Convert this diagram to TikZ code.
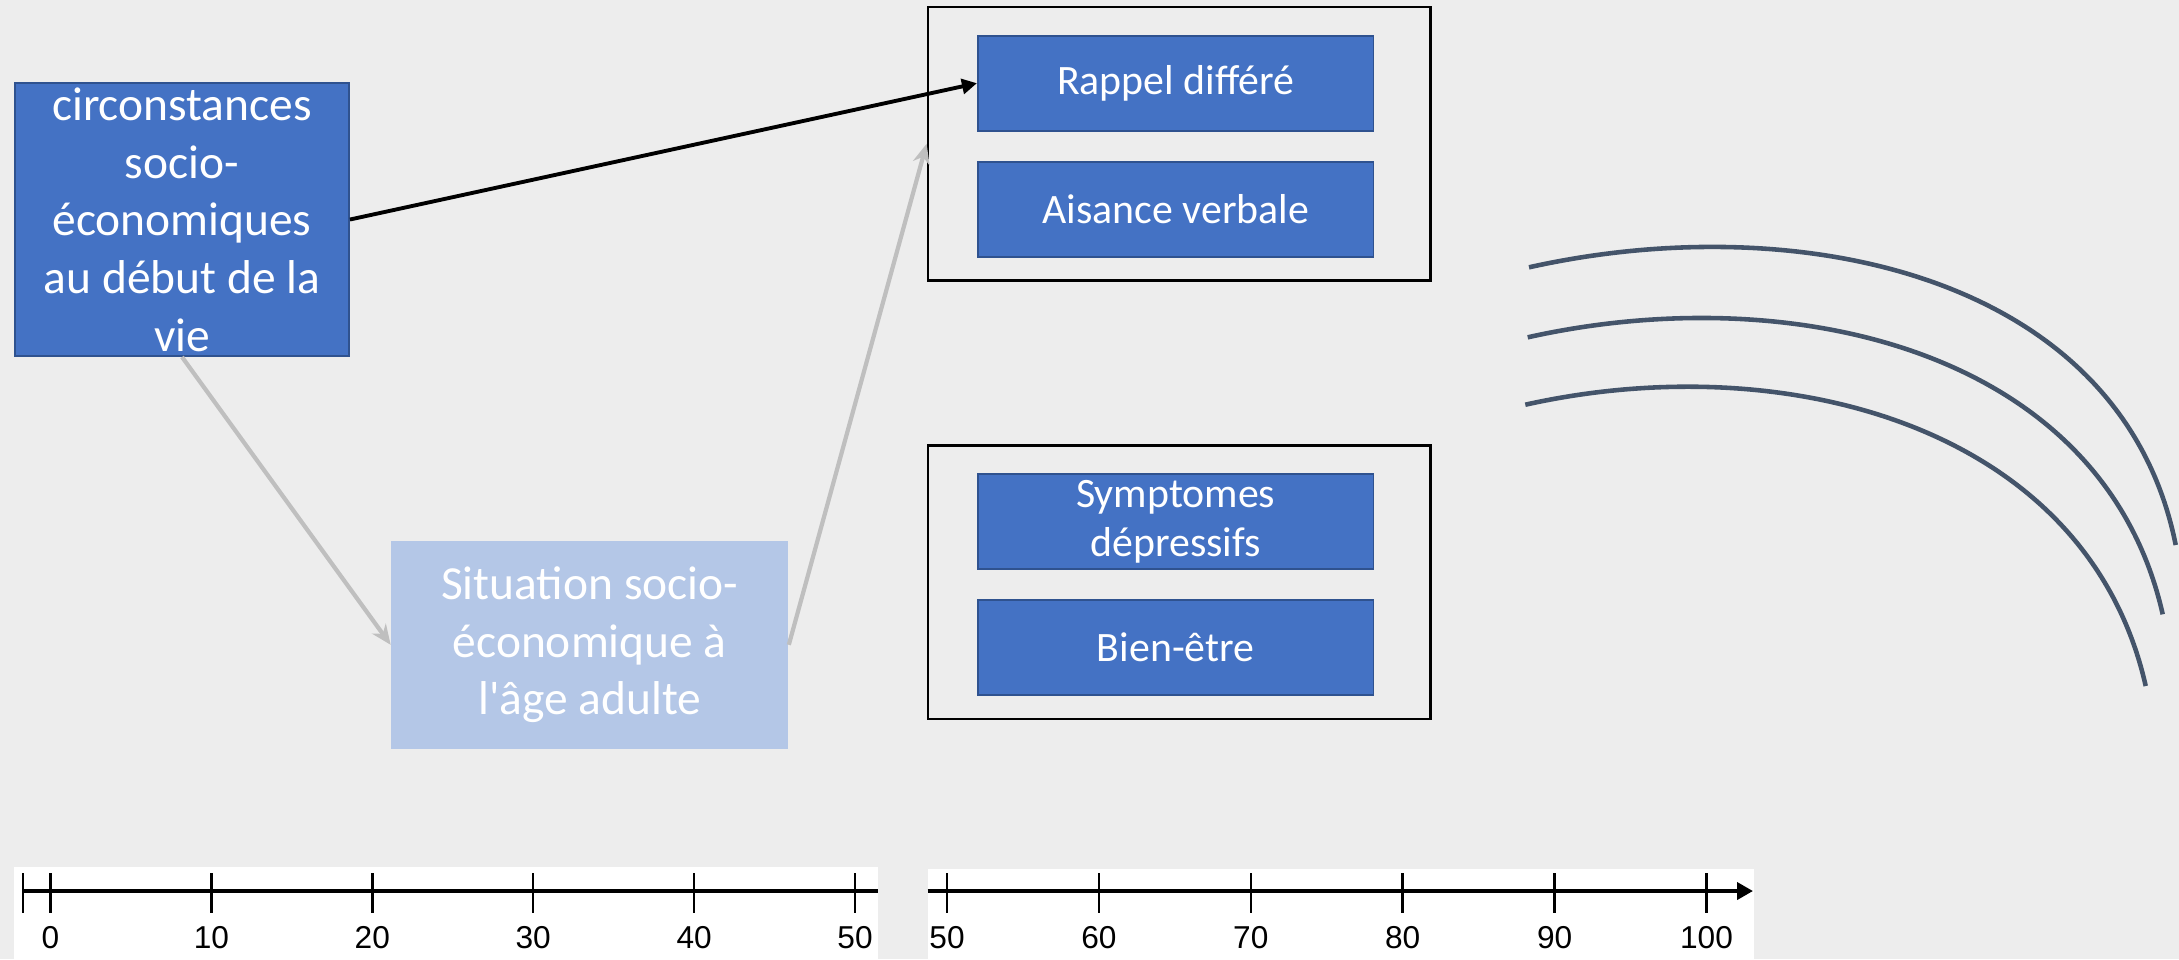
\documentclass[tikz,border=0pt]{standalone}
\usepackage{fontspec}
\setmainfont{Carlito}
\newfontfamily\axisfont{Liberation Sans}
\usetikzlibrary{arrows.meta}

\definecolor{pagegray}{HTML}{EDEDED}
\definecolor{boxblue}{HTML}{4472C4}
\definecolor{boxedge}{HTML}{2F528F}
\definecolor{paleblue}{HTML}{B4C7E7}
\definecolor{linkgray}{HTML}{BFBFBF}
\definecolor{arcslate}{HTML}{44546A}

\tikzset{
  bluebox/.style={draw=boxedge, line width=0.5pt, fill=boxblue, text=white, inner sep=0pt,
    align=center, font=\fontsize{11.9}{13.8}\selectfont, minimum width=3.955cm, minimum height=0.95cm},
  groupframe/.style={draw=black, line width=0.7pt, inner sep=0pt, minimum width=5.025cm, minimum height=2.73cm},
  bigtext/.style={font=\fontsize{13.5}{16.4}\selectfont},
  blacklink/.style={line width=1.1pt, -{Triangle[length=0.15cm,width=0.15cm]}},
  graylink/.style={draw=linkgray, line width=1.2pt, -{Stealth[length=0.2cm,width=0.17cm]}},
  timeline/.style={line width=1.1pt},
  yeartick/.style={line width=0.7pt},
  yearlabel/.style={font=\axisfont\fontsize{9}{10}\selectfont, inner sep=0pt},
  wave/.style={draw=arcslate, line width=1.3pt}
}

\begin{document}
\begin{tikzpicture}[x=0.01cm,y=-0.01cm]
        % Draw page background
        \fill[pagegray] (0,0) rectangle (2179,959);
        \useasboundingbox (0,0) rectangle (2179,959);
        % Draw early life box
        \node[bluebox, bigtext, minimum width=3.34cm, minimum height=2.73cm] (early) at (182,219.5) {%
            \parbox[c][2.73cm][c]{3.34cm}{\centering circonstances\\socio-\\économiques\\au début de la\\vie}};
        % Draw adult box
        \node[fill=paleblue, text=white, bigtext, inner sep=0pt, align=center,
              minimum width=3.965cm, minimum height=2.085cm] (adult) at (589.75,644.8)
            {Situation socio-\\économique à\\l\textquotesingle âge adulte};
        % Draw cognition group
        \node[groupframe] (cogn) at (1179.25,143.75) {};
        \node[bluebox] (rappel) at (1175.7,83.2) {Rappel différé};
        \node[bluebox] (aisance) at (1175.7,209.2) {Aisance verbale};
        % Draw mood group
        \node[groupframe] (mood) at (1179.25,582.2) {};
        \node[bluebox] (symptomes) at (1175.7,521.7) {Symptomes\\dépressifs};
        \node[bluebox] (bienetre) at (1175.7,647.5) {Bien-être};
        % Draw links
        \draw[blacklink] (early.east) -- (rappel.west);
        \draw[graylink] (early.south) -- (adult.west);
        \draw[graylink] (adult.east) -- (cogn.west);
        % Draw arcs
        \draw[wave] (1529,267.3) .. controls (1798.4,207.1) and (2121.6,274.5) .. (2175.7,545);
        \draw[wave] (1527.7,337.3) .. controls (1792.2,278.2) and (2103.1,350.1) .. (2162.7,614.3);
        \draw[wave] (1525.3,404.7) .. controls (1785.5,346.6) and (2087,426.1) .. (2145.7,686);
        % Draw first time axis
        \fill[white] (14.4,867.3) rectangle (878,959);
        \draw[timeline] (23,891) -- (878,891);
        \draw[yeartick] (23,873) -- (23,913);
        \foreach \yr in {0,10,...,50} {
            \draw[yeartick] (50.5+16.09*\yr,873) -- (50.5+16.09*\yr,913);
            \node[yearlabel] (first\yr) at (50.5+16.09*\yr,938) {\yr};
        }
        % Draw second time axis
        \fill[white] (927.6,869) rectangle (1754,959);
        \draw[timeline, -{Triangle[length=0.16cm,width=0.17cm]}] (927.6,891) -- (1753,891);
        \foreach \yr in {50,60,...,100} {
            \draw[yeartick] (947+15.19*\yr-759.5,873) -- (947+15.19*\yr-759.5,913);
            \node[yearlabel] (second\yr) at (947+15.19*\yr-759.5,938) {\yr};
        }
    \end{tikzpicture}
\end{document}
